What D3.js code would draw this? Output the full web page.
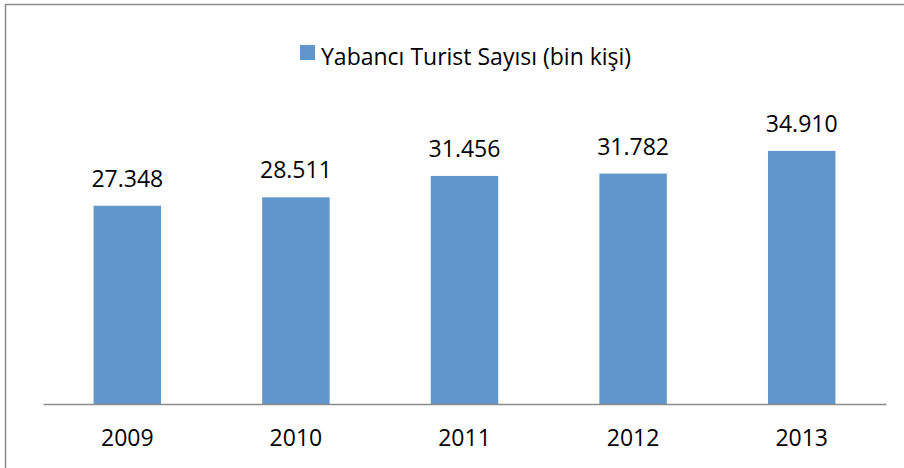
<!DOCTYPE html>
<html>
<head>
<meta charset="utf-8">
<script src="https://d3js.org/d3.v7.min.js"></script>
<style>
  body { margin: 0; background: #fff; }
  text { font-family: "Open Sans", sans-serif; fill: #000; }
</style>
</head>
<body>
<div id="chart"></div>
<script>
var years = ["2009", "2010", "2011", "2012", "2013"];
var visitors = [27348, 28511, 31456, 31782, 34910];
var seriesName = "Yabancı Turist Sayısı (bin kişi)";

function init() {
    var w = 904;
    var h = 468;
    var left = 43, right = 886; // plot area edges
    var base = 404;             // baseline of the bars

    var svg = d3.select("#chart")
        .append("svg")
        .attr("width", w)
        .attr("height", h);

    // outer frame (only top and left visible in the crop)
    svg.append("path")
        .attr("d", "M5.5," + h + "V4.5H" + w)
        .attr("fill", "none")
        .attr("stroke", "#8c8c8c")
        .attr("stroke-width", 1.5);

    var xScale = d3.scaleBand()
        .domain(years)
        .range([left, right])
        .paddingInner(0.6)
        .paddingOuter(0.3);

    var yScale = d3.scaleLinear()
        .domain([0, 40000])
        .range([base, 114]);

    var data = years.map(function (y, i) { return { year: y, value: visitors[i] }; });

    svg.selectAll("rect.bar")
        .data(data)
        .enter()
        .append("rect")
        .attr("class", "bar")
        .attr("x", function (d) { return xScale(d.year); })
        .attr("y", function (d) { return yScale(d.value); })
        .attr("width", xScale.bandwidth())
        .attr("height", function (d) { return base - yScale(d.value); })
        .attr("fill", "#6096c9");

    // value labels, Turkish thousands separator
    var fmt = d3.formatLocale({ decimal: ",", thousands: ".", grouping: [3], currency: ["", ""] }).format(",d");
    svg.selectAll("text.val")
        .data(data)
        .enter()
        .append("text")
        .attr("class", "val")
        .attr("text-anchor", "middle")
        .attr("font-size", "23px")
        .attr("x", function (d) { return xScale(d.year) + xScale.bandwidth() / 2; })
        .attr("y", function (d) { return yScale(d.value) - 19; })
        .text(function (d) { return fmt(d.value); });

    var xAxis = d3.axisBottom(xScale).tickSize(0).tickPadding(26);
    var gx = svg.append("g")
        .attr("transform", "translate(0," + base + ")")
        .call(xAxis);
    gx.select(".domain").attr("stroke", "#8c8c8c").attr("stroke-width", 1.5);
    gx.selectAll("text")
        .attr("font-size", "23px")
        .attr("font-family", "Open Sans, sans-serif")
        .attr("fill", "#000");

    // legend
    var lg = svg.append("g").attr("transform", "translate(300,45)");
    lg.append("rect")
        .attr("width", 15)
        .attr("height", 15)
        .attr("fill", "#6096c9");
    lg.append("text")
        .attr("x", 21)
        .attr("y", 20)
        .attr("font-size", "23px")
        .text(seriesName);
}

window.onload = init;
</script>
</body>
</html>
